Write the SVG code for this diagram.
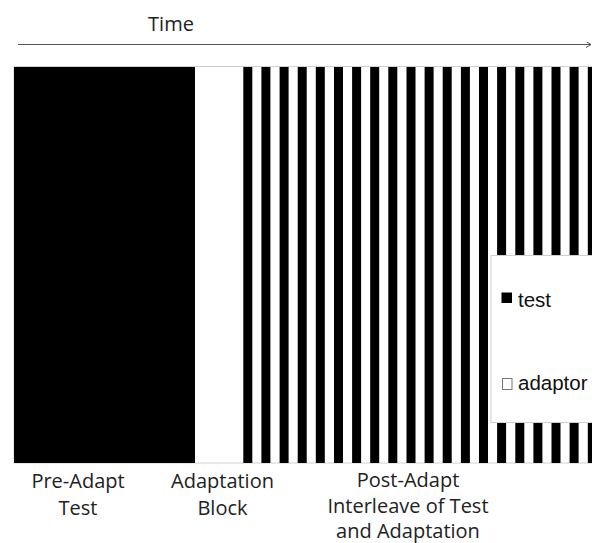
<svg xmlns="http://www.w3.org/2000/svg" width="592" height="543" viewBox="0 0 592 543">
<style>
.lbl{font-family:"Open Sans","Liberation Sans",sans-serif;font-size:20px;fill:#222;text-anchor:middle}
.leg{font-family:"Liberation Sans",Arial,sans-serif;font-size:20.5px;fill:#111}
.stripe{fill:#000}
</style>
<defs>
<marker id="arr" markerWidth="6" markerHeight="6" refX="5" refY="3" orient="auto" markerUnits="userSpaceOnUse">
<path d="M0,0 L5,3 L0,6" fill="none" stroke="#555" stroke-width="1"/>
</marker>
</defs>
<rect width="592" height="543" fill="#fff"/>
<g id="time-axis">
<text class="lbl" x="171" y="31">Time</text>
</g>
<g id="connectors">
<line x1="18" y1="44.5" x2="591" y2="44.5" stroke="#555" stroke-width="1" marker-end="url(#arr)"/>
</g>
<g id="timeline">
<rect x="14" y="66.5" width="590" height="396.5" fill="#fff" stroke="#d0d0d0" stroke-width="1"/>
<rect id="pre-adapt-block" x="14" y="67" width="181" height="396" fill="#000"/>
<g id="interleave-stripes">
<rect class="stripe" x="243.3" y="67" width="9" height="396"/>
<rect class="stripe" x="261.4" y="67" width="9" height="396"/>
<rect class="stripe" x="279.6" y="67" width="9" height="396"/>
<rect class="stripe" x="297.7" y="67" width="9" height="396"/>
<rect class="stripe" x="315.8" y="67" width="9" height="396"/>
<rect class="stripe" x="334.0" y="67" width="9" height="396"/>
<rect class="stripe" x="352.1" y="67" width="9" height="396"/>
<rect class="stripe" x="370.2" y="67" width="9" height="396"/>
<rect class="stripe" x="388.3" y="67" width="9" height="396"/>
<rect class="stripe" x="406.5" y="67" width="9" height="396"/>
<rect class="stripe" x="424.6" y="67" width="9" height="396"/>
<rect class="stripe" x="442.7" y="67" width="9" height="396"/>
<rect class="stripe" x="460.9" y="67" width="9" height="396"/>
<rect class="stripe" x="479.0" y="67" width="9" height="396"/>
<rect class="stripe" x="497.1" y="67" width="9" height="396"/>
<rect class="stripe" x="515.3" y="67" width="9" height="396"/>
<rect class="stripe" x="533.4" y="67" width="9" height="396"/>
<rect class="stripe" x="551.5" y="67" width="9" height="396"/>
<rect class="stripe" x="569.6" y="67" width="9" height="396"/>
<rect class="stripe" x="587.8" y="67" width="9" height="396"/>
</g>
</g>
<g id="legend">
<rect x="491" y="255.5" width="110" height="167" fill="#fff" stroke="#d0d0d0" stroke-width="1"/>
<rect x="501.5" y="292.5" width="10.5" height="10.5" fill="#000"/>
<text class="leg" x="518" y="307">test</text>
<rect x="502.5" y="378.5" width="9.5" height="11" fill="#fff" stroke="#777" stroke-width="1"/>
<text class="leg" x="518" y="390">adaptor</text>
</g>
<g id="label-pre">
<text class="lbl" x="78" y="488">Pre-Adapt</text>
<text class="lbl" x="78" y="515">Test</text>
</g>
<g id="label-adapt">
<text class="lbl" x="222.5" y="488">Adaptation</text>
<text class="lbl" x="222.5" y="515">Block</text>
</g>
<g id="label-post">
<text class="lbl" x="408" y="487">Post-Adapt</text>
<text class="lbl" x="408" y="513">Interleave of Test</text>
<text class="lbl" x="408" y="538">and Adaptation</text>
</g>
</svg>
